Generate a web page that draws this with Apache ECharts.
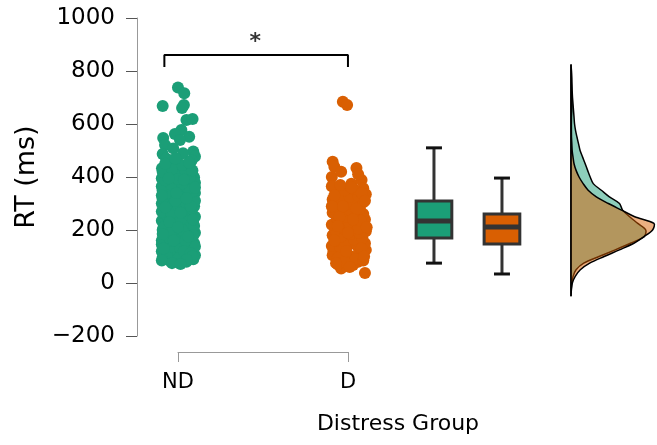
<!DOCTYPE html>
<html>
<head>
  <meta charset="UTF-8">
  <title>RT by distress group</title>
  <script src="https://cdn.jsdelivr.net/npm/echarts@6/dist/echarts.min.js"></script>
  <style>
    html, body { margin: 0; padding: 0; background: #fff; }
    #main { width: 657px; height: 445px; }
  </style>
</head>
<body>
<div id="main"></div>
<script>
// ---- data ----
var groups = ['ND', 'D'];
var yTicks = [-200, 0, 200, 400, 600, 800, 1000];

// jittered raw points, ND group (offset from category centre, RT in ms)
var ndJitter = [0.00,0.037,-0.09,0.035,0.024,0.05,0.086,0.02,-0.018,-0.087,0.066,-0.076,0.012,0.09,-0.09,-0.028,0.10,-0.008,-0.094,0.07,0.03,-0.05,0.08,-0.07,
  -0.09,-0.05,0.00,0.05,0.09,0.10,-0.095,-0.03,0.03,0.07,-0.08,-0.02,0.05,0.095,-0.095,-0.045,0.01,0.08,-0.07,0.035,0.10,-0.09,-0.01,0.06,-0.05,0.02,
  0.09,-0.095,-0.035,0.045,0.10,-0.075,0.00,0.07,-0.085,-0.025,0.035,0.095,-0.095,-0.05,0.02,0.08,-0.075,0.00,0.05,0.10,-0.09,-0.035,0.035,0.085,-0.065,
  0.01,0.06,-0.095,-0.025,0.045,0.095,-0.06,0.02,0.075,-0.085,-0.035,0.015,0.06,0.10,-0.095,-0.05,0.00,0.045,0.085,-0.085,-0.015,0.05,0.095,-0.06,0.015,
  0.07,-0.095,-0.04,0.025,0.085,-0.065,0.00,0.05,0.10,-0.09,-0.025,0.035,0.085,-0.06,0.01,0.06,-0.095,-0.04,0.025,0.10,-0.075,0.00,0.07,-0.09,-0.035,
  0.04,0.085,-0.075,0.025,0.065,-0.015,-0.065,0.00,0.06,-0.085,0.035,0.075,-0.04,0.025,0.09,-0.09,-0.025,0.06,-0.05,0.00,0.09,-0.075,0.015,0.075,-0.015,
  0.05,-0.095,-0.01,0.10,-0.055,0.035,0.085,-0.095,0.05,-0.035,0.015];
var ndRT = [738,716,668,672,660,615,619,577,562,547,552,521,540,496,487,508,477,464,433,439,490,455,462,470,
  95,85,78,80,90,105,120,100,110,125,140,130,145,150,160,155,165,170,180,185,190,200,195,205,215,220,
  225,235,240,245,250,260,255,265,275,280,285,290,300,305,310,315,325,330,335,340,350,355,360,370,375,
  380,385,395,400,405,398,415,420,410,110,118,128,135,138,145,170,178,160,200,210,225,230,215,250,238,
  255,270,262,272,280,295,292,300,310,318,320,328,345,340,348,358,365,372,375,378,388,392,398,420,430,
  428,425,450,445,455,470,100,92,98,130,120,112,190,200,180,185,160,175,230,210,240,285,265,290,310,
  320,330,340,360,395,390,100,85,88,75,72];

// jittered raw points, D group
var dJitter = [-0.03,-0.005,-0.09,-0.08,0.05,-0.095,0.08,0.09,0.06,-0.04,-0.04,0.10,-0.09,0.03,0.06,-0.06,
  -0.085,-0.03,0.02,0.07,0.105,-0.095,-0.045,0.005,0.055,0.10,-0.07,-0.015,0.035,0.085,-0.09,-0.04,0.015,0.065,0.105,
  -0.075,-0.02,0.03,0.08,-0.095,-0.045,0.005,0.055,0.10,-0.065,-0.01,0.04,0.09,-0.09,-0.035,0.015,0.07,-0.07,-0.015,
  0.035,0.09,-0.09,-0.04,0.01,0.06,0.105,-0.07,-0.02,0.035,0.08,-0.095,-0.045,0.02,-0.06,0.045,0.09,-0.02,-0.08,0.06,
  -0.05,0.075,0.00,-0.03,0.05,0.10,-0.08,0.02,-0.01,0.08,-0.06,0.03,0.095,-0.07,0.01,0.11,-0.095];
var dRT = [684,672,458,439,434,400,389,358,410,420,55,38,105,68,80,70,
  120,110,100,115,125,140,135,145,140,150,160,155,165,170,180,175,185,190,195,
  200,205,210,215,220,225,230,235,240,245,250,255,260,265,270,275,280,290,295,
  300,305,315,320,325,330,335,345,350,355,340,365,370,375,95,90,85,80,160,205,
  250,235,190,290,280,310,330,360,120,130,215,240,100,75,60,210,290];

// box summaries: whisker low, q1, median, q3, whisker high
var boxLow = [75, 34];
var boxQ1 = [170, 147];
var boxMed = [234, 211];
var boxQ3 = [309, 260];
var boxHigh = [510, 396];

// half-violin densities (relative), sampled at densityY
var densityY = [825,800,775,750,725,700,675,650,625,600,575,550,525,500,475,450,425,400,375,350,
  325,300,275,250,225,200,175,150,125,100,75,50,25,0,-25,-50];
var ndDensity = [0,0.006,0.01,0.012,0.014,0.018,0.024,0.03,0.036,0.042,0.054,0.071,0.089,0.107,0.137,0.167,0.196,0.226,0.262,0.357,
  0.452,0.571,0.607,0.69,0.786,0.88,0.86,0.7,0.52,0.33,0.15,0.06,0.025,0.01,0.003,0];
var dDensity = [0,0,0.002,0.004,0.006,0.01,0.012,0.01,0.006,0.005,0.005,0.006,0.01,0.014,0.024,0.036,0.06,0.095,0.143,0.202,
  0.298,0.44,0.595,0.75,0.976,0.96,0.86,0.74,0.57,0.39,0.22,0.11,0.05,0.016,0.005,0];

var colors = ['#1b9e77', '#d95f02'];
var fills = ['rgba(27,158,119,0.5)', 'rgba(217,95,2,0.5)'];

// layout on the hidden x scale (ND = 0, D = 1)
var boxX = [1.506, 1.906];
var densityBase = 2.312;
var densityWidth = 0.5;
var font = 'DejaVu Sans';

function pts(jit, rt, centre) {
  var out = [];
  for (var i = 0; i < rt.length; i++) out.push([centre + jit[i], rt[i]]);
  return out;
}

var boxData = [];
for (var i = 0; i < boxLow.length; i++) {
  boxData.push([boxX[i], boxLow[i], boxQ1[i], boxMed[i], boxQ3[i], boxHigh[i]]);
}

function renderBox(params, api) {
  var i = params.dataIndex;
  var x = api.value(0);
  var pLo = api.coord([x, api.value(1)]);
  var pQ1 = api.coord([x, api.value(2)]);
  var pMed = api.coord([x, api.value(3)]);
  var pQ3 = api.coord([x, api.value(4)]);
  var pHi = api.coord([x, api.value(5)]);
  var hb = api.size([0.105, 0])[0];
  var hc = api.size([0.047, 0])[0];
  var dark = '#333';
  return {
    type: 'group',
    children: [
      { type: 'line', shape: { x1: pHi[0], y1: pHi[1], x2: pQ3[0], y2: pQ3[1] }, style: { stroke: dark, lineWidth: 3 } },
      { type: 'line', shape: { x1: pQ1[0], y1: pQ1[1], x2: pLo[0], y2: pLo[1] }, style: { stroke: dark, lineWidth: 3 } },
      { type: 'rect', shape: { x: pQ3[0] - hb, y: pQ3[1], width: hb * 2, height: pQ1[1] - pQ3[1] },
        style: { fill: colors[i], stroke: dark, lineWidth: 3 } },
      { type: 'line', shape: { x1: pMed[0] - hb, y1: pMed[1], x2: pMed[0] + hb, y2: pMed[1] }, style: { stroke: dark, lineWidth: 5 } },
      { type: 'line', shape: { x1: pHi[0] - hc, y1: pHi[1], x2: pHi[0] + hc, y2: pHi[1] }, style: { stroke: '#111', lineWidth: 3 } },
      { type: 'line', shape: { x1: pLo[0] - hc, y1: pLo[1], x2: pLo[0] + hc, y2: pLo[1] }, style: { stroke: '#111', lineWidth: 3 } }
    ]
  };
}

function renderDensity(params, api) {
  var i = params.dataIndex;
  var dens = i === 0 ? ndDensity : dDensity;
  var points = [];
  for (var k = 0; k < densityY.length; k++) {
    points.push(api.coord([densityBase + dens[k] * densityWidth, densityY[k]]));
  }
  points.push(api.coord([densityBase, densityY[densityY.length - 1]]));
  points.push(api.coord([densityBase, densityY[0]]));
  return {
    type: 'polygon',
    shape: { points: points, smooth: 0.3 },
    style: { fill: fills[i], stroke: '#000', lineWidth: 1.5 }
  };
}

var myChart = echarts.init(document.getElementById('main'));
var option = {
  animation: false,
  title: {
    text: 'Distress Group', left: 393, top: 408, textAlign: 'center',
    textStyle: { fontFamily: font, fontSize: 22, fontWeight: 'normal', color: '#000' }
  },
  grid: [
    { left: 137, top: 18, width: 520, height: 318 },
    { left: 178, top: 340, width: 170, height: 12 }
  ],
  xAxis: [
    { type: 'value', gridIndex: 0, min: -0.241, max: 2.818, show: false },
    {
      type: 'category', gridIndex: 1, data: groups, boundaryGap: false, position: 'bottom',
      axisLine: { lineStyle: { color: '#999', width: 1 } },
      axisTick: { length: 10, lineStyle: { color: '#999', width: 1 } },
      axisLabel: { fontFamily: font, fontSize: 21, color: '#000', margin: 20 },
      splitLine: { show: false }
    }
  ],
  yAxis: [
    {
      type: 'value', gridIndex: 0, min: yTicks[0], max: yTicks[yTicks.length - 1], interval: 200,
      name: 'RT (ms)', nameLocation: 'middle', nameGap: 94,
      nameTextStyle: { fontFamily: font, fontSize: 27, color: '#000' },
      axisLine: { show: true, onZero: false, lineStyle: { color: '#999', width: 1 } },
      axisTick: { show: true, length: 11, lineStyle: { color: '#555', width: 1 } },
      axisLabel: {
        fontFamily: font, fontSize: 23, color: '#000', margin: 22,
        formatter: function (v) { return v < 0 ? '\u2212' + Math.abs(v) : String(v); }
      },
      splitLine: { show: false }
    },
    { type: 'value', gridIndex: 1, show: false }
  ],
  series: [
    {
      type: 'scatter', name: 'ND', data: pts(ndJitter, ndRT, 0), symbolSize: 12,
      itemStyle: { color: colors[0], opacity: 1 }, silent: true
    },
    {
      type: 'scatter', name: 'D', data: pts(dJitter, dRT, 1), symbolSize: 12,
      itemStyle: { color: colors[1], opacity: 1 }, silent: true
    },
    {
      type: 'custom', renderItem: renderBox, data: boxData,
      encode: { x: 0, y: [1, 2, 3, 4, 5] }, silent: true
    },
    {
      type: 'custom', renderItem: renderDensity,
      data: [[densityBase, 200], [densityBase, 200]],
      encode: { x: 0, y: 1 }, clip: false, silent: true
    },
    {
      // significance bracket
      type: 'line', data: [[-0.08, 815], [-0.08, 860], [1, 860], [1, 815]],
      symbol: 'none', lineStyle: { color: '#000', width: 2 }, silent: true
    },
    {
      type: 'scatter', data: [[0.455, 910]], symbolSize: 0,
      label: { show: true, formatter: '*', fontFamily: font, fontSize: 22, fontWeight: 'bold', color: '#000', position: 'inside' },
      silent: true
    }
  ]
};
myChart.setOption(option);
</script>
</body>
</html>
